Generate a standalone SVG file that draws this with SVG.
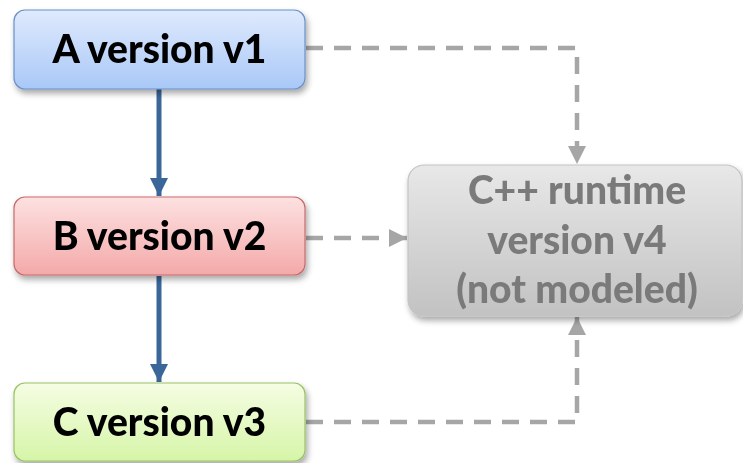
<svg xmlns="http://www.w3.org/2000/svg" width="743" height="463" viewBox="0 0 743 463">
<defs>
<linearGradient id="gA" x1="0" y1="0" x2="0" y2="1"><stop offset="0" stop-color="#dfeafd"/><stop offset="1" stop-color="#a9c8f7"/></linearGradient>
<linearGradient id="gB" x1="0" y1="0" x2="0" y2="1"><stop offset="0" stop-color="#fde1e1"/><stop offset="1" stop-color="#f4a9a9"/></linearGradient>
<linearGradient id="gC" x1="0" y1="0" x2="0" y2="1"><stop offset="0" stop-color="#f5fde3"/><stop offset="1" stop-color="#d6f5a8"/></linearGradient>
<linearGradient id="gD" x1="0" y1="0" x2="0" y2="1"><stop offset="0" stop-color="#e8e8e8"/><stop offset="1" stop-color="#c2c2c2"/></linearGradient>
<filter id="sh" x="-10%" y="-10%" width="120%" height="130%"><feGaussianBlur in="SourceAlpha" stdDeviation="3"/><feOffset dx="2" dy="4"/><feComponentTransfer><feFuncA type="linear" slope="0.35"/></feComponentTransfer><feMerge><feMergeNode/><feMergeNode in="SourceGraphic"/></feMerge></filter>
<marker id="ab" viewBox="0 0 10 10" refX="10" refY="5" markerWidth="3.6" markerHeight="3.6" orient="auto" markerUnits="strokeWidth"><path d="M0,0 L10,5 L0,10 z" fill="#3a6699"/></marker>
<marker id="ag" viewBox="0 0 10 10" refX="10" refY="5" markerWidth="4" markerHeight="4" orient="auto" markerUnits="strokeWidth"><path d="M0,0 L10,5 L0,10 z" fill="#a6a6a6"/></marker>
</defs>
<style>
.lbl{font-family:Lato,"Open Sans","Liberation Sans",sans-serif;font-weight:900;font-size:39px;text-anchor:middle;fill:#000}
.gl{fill:#7a7a7a}
.dash{fill:none;stroke:#a6a6a6;stroke-width:4.5;stroke-dasharray:17,11}
.sol{fill:none;stroke:#3a6699;stroke-width:5}
</style>
<g id="connectors">
<line class="sol" x1="159" y1="89" x2="159" y2="196" marker-end="url(#ab)"/>
<line class="sol" x1="159" y1="276" x2="159" y2="382" marker-end="url(#ab)"/>
<path class="dash" d="M306,48 H577 V164" marker-end="url(#ag)"/>
<path class="dash" d="M306,238 H407" marker-end="url(#ag)"/>
<path class="dash" d="M306,422 H577 V317" marker-end="url(#ag)"/>
</g>
<g id="nodeA" filter="url(#sh)">
<rect x="14" y="10" width="291" height="79" rx="11" fill="url(#gA)" stroke="#6b90c8" stroke-width="1.2"/>
<text class="lbl" x="159.5" y="63">A version v1</text>
</g>
<g id="nodeB" filter="url(#sh)">
<rect x="14" y="197" width="291" height="78" rx="11" fill="url(#gB)" stroke="#c96a6a" stroke-width="1.2"/>
<text class="lbl" x="159.5" y="250">B version v2</text>
</g>
<g id="nodeC" filter="url(#sh)">
<rect x="14" y="383" width="291" height="78" rx="11" fill="url(#gC)" stroke="#99c266" stroke-width="1.2"/>
<text class="lbl" x="159.5" y="436">C version v3</text>
</g>
<g id="nodeD" filter="url(#sh)">
<rect x="408" y="165" width="334" height="151" rx="16" fill="url(#gD)" stroke="#c4c4c4" stroke-width="1.2"/>
<text class="lbl gl" x="577" y="204">C++ runtime</text>
<text class="lbl gl" x="577" y="254">version v4</text>
<text class="lbl gl" x="577" y="303">(not modeled)</text>
</g>
</svg>
